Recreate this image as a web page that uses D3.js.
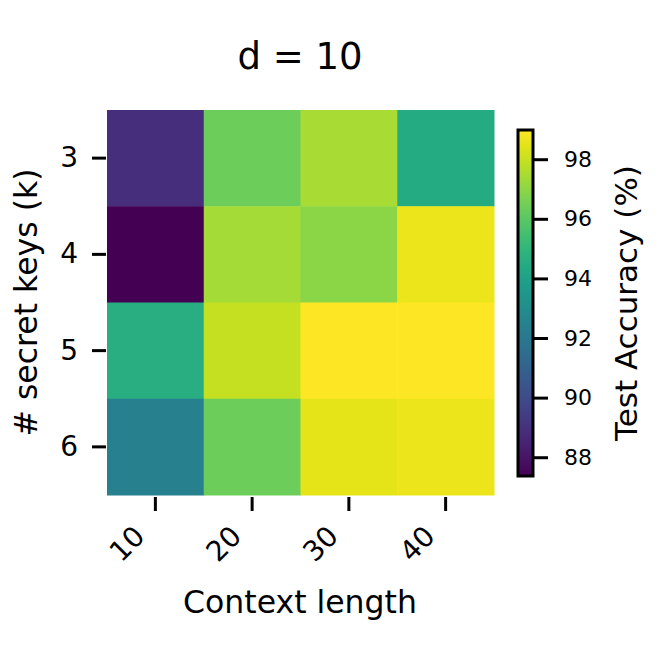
<!DOCTYPE html>
<html>
<head>
<meta charset="utf-8">
<script src="https://cdn.jsdelivr.net/npm/d3@7"></script>
<style>
  html, body { margin: 0; padding: 0; background: #fff; }
  text { font-family: "DejaVu Sans", sans-serif; fill: #000; }
</style>
</head>
<body>
<svg id="chart" width="660" height="660"></svg>
<script>
const contextLengths = [10, 20, 30, 40];
const secretKeys = [3, 4, 5, 6];
// accuracy[row k][col context length]
const accK3 = [88.88, 96.37, 97.45, 94.45];
const accK4 = [87.37, 97.42, 96.95, 98.63];
const accK5 = [94.63, 97.94, 98.98, 98.97];
const accK6 = [92.36, 96.37, 98.52, 98.63];
const accuracyRows = [accK3, accK4, accK5, accK6];
const colorbarTicks = [88, 90, 92, 94, 96, 98];
const titleText = "d = 10";
const xLabel = "Context length";
const yLabel = "# secret keys (k)";
const cbLabel = "Test Accuracy (%)";

const cells = [];
secretKeys.forEach((k, i) => contextLengths.forEach((c, j) => cells.push({k, c, v: accuracyRows[i][j]})));
const allVals = cells.map(d => d.v);
const vmin = d3.min(allVals), vmax = d3.max(allVals);

const svg = d3.select("#chart");
const plot = {left: 107, right: 494, top: 110, bottom: 495};

const x = d3.scaleBand().domain(contextLengths).range([plot.left, plot.right]).padding(0);
const y = d3.scaleBand().domain(secretKeys).range([plot.top, plot.bottom]).padding(0);
const color = d3.scaleSequential(d3.interpolateViridis).domain([vmin, vmax]);

svg.append("g").selectAll("rect").data(cells).join("rect")
  .attr("x", d => x(d.c)).attr("y", d => y(d.k))
  .attr("width", x.bandwidth() + 0.5).attr("height", y.bandwidth() + 0.5)
  .attr("fill", d => color(d.v));

// x axis
const xAxis = d3.axisBottom(x).tickSize(14).tickSizeOuter(0).tickPadding(0);
const gx = svg.append("g").attr("transform", `translate(0,${plot.bottom + 2})`).call(xAxis);
gx.select(".domain").remove();
gx.selectAll(".tick line").attr("stroke", "#000").attr("stroke-width", 3);
gx.selectAll(".tick text")
  .attr("font-size", 28)
  .attr("text-anchor", "end")
  .attr("dy", 0)
  .attr("y", 0)
  .attr("transform", "translate(-9,41) rotate(-45)");

// y axis
const yAxis = d3.axisLeft(y).tickSize(14).tickSizeOuter(0).tickPadding(14);
const gy = svg.append("g").attr("transform", `translate(${plot.left - 1},0)`).call(yAxis);
gy.select(".domain").remove();
gy.selectAll(".tick line").attr("stroke", "#000").attr("stroke-width", 3);
gy.selectAll(".tick text").attr("font-size", 28);

// title
svg.append("text").attr("x", 300).attr("y", 69).attr("text-anchor", "middle")
  .attr("font-size", 37).text(titleText);

// axis labels
svg.append("text").attr("x", 300).attr("y", 613).attr("text-anchor", "middle")
  .attr("font-size", 31.5).text(xLabel);
svg.append("text").attr("transform", `translate(37,${(plot.top + plot.bottom) / 2}) rotate(-90)`)
  .attr("text-anchor", "middle").attr("font-size", 31.5).text(yLabel);

// colorbar
const cb = {x: 518, y: 130, w: 15, h: 346};
const cbScale = d3.scaleLinear().domain([vmin, vmax]).range([cb.y + cb.h, cb.y]);
const defs = svg.append("defs");
const grad = defs.append("linearGradient").attr("id", "cbgrad")
  .attr("x1", 0).attr("y1", 1).attr("x2", 0).attr("y2", 0);
d3.range(0, 1.0001, 0.05).forEach(t => {
  grad.append("stop").attr("offset", t).attr("stop-color", d3.interpolateViridis(t));
});
svg.append("rect").attr("x", cb.x).attr("y", cb.y).attr("width", cb.w).attr("height", cb.h)
  .attr("fill", "url(#cbgrad)").attr("stroke", "#000").attr("stroke-width", 3);
const cbAxis = d3.axisRight(cbScale).tickValues(colorbarTicks).tickSize(14).tickPadding(16).tickFormat(d3.format("d"));
const gcb = svg.append("g").attr("transform", `translate(${cb.x + cb.w + 1},0)`).call(cbAxis);
gcb.select(".domain").remove();
gcb.selectAll(".tick line").attr("stroke", "#000").attr("stroke-width", 3);
gcb.selectAll(".tick text").attr("font-size", 22);
svg.append("text").attr("transform", `translate(637,${cb.y + cb.h / 2}) rotate(-90)`)
  .attr("text-anchor", "middle").attr("font-size", 31).text(cbLabel);
</script>
</body>
</html>
